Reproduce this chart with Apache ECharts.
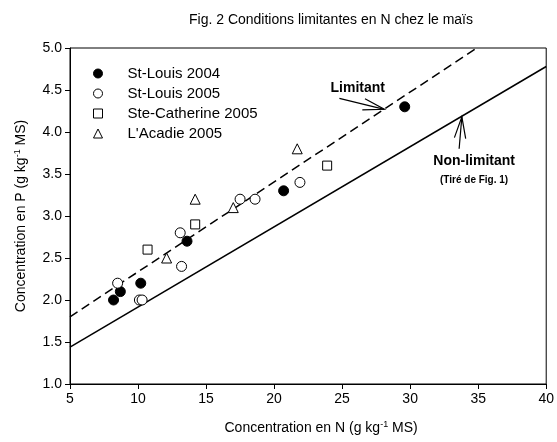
<!DOCTYPE html>
<html>
<head>
<meta charset="utf-8">
<script src="https://cdn.jsdelivr.net/npm/echarts@6/dist/echarts.min.js"></script>
<style>
  html, body { margin: 0; padding: 0; background: #fff; }
  #chart { width: 557px; height: 442px; }
</style>
</head>
<body>
<div id="chart"></div>
<script>
// points: [N, P]
const stLouis2004 = [[8.2, 2.0], [8.7, 2.1], [10.2, 2.2], [13.6, 2.7], [20.7, 3.3], [29.6, 4.3]];
const stLouis2005 = [[8.5, 2.2], [10.1, 2.0], [10.3, 2.0], [13.2, 2.4], [13.1, 2.8], [17.5, 3.2], [18.6, 3.2], [21.9, 3.4]];
const steCatherine2005 = [[10.7, 2.6], [14.2, 2.9], [23.9, 3.6]];
const lAcadie2005 = [[12.1, 2.5], [14.2, 3.2], [17.0, 3.1], [21.7, 3.8]];

// reference lines (end points)
const limitantLine = [[5, 1.8], [34.9, 5.0]];
const nonLimitantLine = [[5, 1.44], [40, 4.78]];

const xTicks = { min: 5, max: 40, interval: 5 };
const yTicks = { min: 1, max: 5, interval: 0.5 };

const FONT = 'Liberation Sans, Arial, sans-serif';

const myChart = echarts.init(document.getElementById('chart'));

const pointSeries = (name, data, symbol, filled, size) => ({
  name,
  type: 'scatter',
  data,
  symbol,
  symbolSize: size,
  itemStyle: {
    color: filled ? '#000' : '#fff',
    borderColor: '#000',
    borderWidth: 1,
    opacity: 1
  },
  z: 5
});

myChart.setOption({
  animation: false,
  title: {
    text: 'Fig. 2 Conditions limitantes en N chez le maïs',
    left: 326,
    textAlign: 'center',
    top: 8,
    textStyle: { fontFamily: FONT, fontSize: 14, fontWeight: 'normal', color: '#000' }
  },
  legend: {
    orient: 'vertical',
    left: 88,
    top: 61,
    itemWidth: 9,
    itemHeight: 9,
    itemGap: 5,
    itemStyle: { borderWidth: 1 },
    textStyle: { fontFamily: FONT, fontSize: 15, color: '#000', padding: [0, 0, 0, 20] },
    data: ['St-Louis 2004', 'St-Louis 2005', 'Ste-Catherine 2005', "L'Acadie 2005"]
  },
  grid: {
    left: 70,
    right: 8,
    top: 48,
    bottom: 58,
    show: true,
    borderColor: '#000',
    borderWidth: 1
  },
  xAxis: {
    type: 'value',
    min: xTicks.min,
    max: xTicks.max,
    interval: xTicks.interval,
    splitLine: { show: false },
    axisLine: { lineStyle: { color: '#000' } },
    axisTick: { length: 5, lineStyle: { color: '#000' } },
    axisLabel: { fontFamily: FONT, fontSize: 14, color: '#000', margin: 8 },
    name: '{n|Concentration en N (g kg}{s|-1}{n| MS)}',
    nameLocation: 'middle',
    nameGap: 36,
    nameTextStyle: {
      padding: [0, 0, 0, 26],
      rich: {
        n: { fontFamily: FONT, fontSize: 14, color: '#000' },
        s: { fontFamily: FONT, fontSize: 9, color: '#000', verticalAlign: 'top', padding: [0, 0, 8, 0] }
      }
    }
  },
  yAxis: {
    type: 'value',
    min: yTicks.min,
    max: yTicks.max,
    interval: yTicks.interval,
    splitLine: { show: false },
    axisLine: { lineStyle: { color: '#000' } },
    axisTick: { length: 5, lineStyle: { color: '#000' } },
    axisLabel: {
      fontFamily: FONT, fontSize: 14, color: '#000', margin: 8,
      formatter: v => v.toFixed(1)
    },
    name: '{n|Concentration en P (g kg}{s|-1}{n| MS)}',
    nameLocation: 'middle',
    nameGap: 40,
    nameRotate: 90,
    nameTextStyle: {
      rich: {
        n: { fontFamily: FONT, fontSize: 14, color: '#000' },
        s: { fontFamily: FONT, fontSize: 9, color: '#000', verticalAlign: 'top', padding: [0, 0, 8, 0] }
      }
    }
  },
  series: [
    {
      name: 'Limitant',
      type: 'line',
      data: limitantLine,
      symbol: 'none',
      lineStyle: { color: '#000', width: 1.5, type: [9, 5] },
      z: 2
    },
    {
      name: 'Non-limitant',
      type: 'line',
      data: nonLimitantLine,
      symbol: 'none',
      lineStyle: { color: '#000', width: 1.5 },
      z: 2
    },
    pointSeries('St-Louis 2004', stLouis2004, 'circle', true, 10),
    pointSeries('St-Louis 2005', stLouis2005, 'circle', false, 10),
    pointSeries('Ste-Catherine 2005', steCatherine2005, 'rect', false, 9),
    pointSeries("L'Acadie 2005", lAcadie2005, 'triangle', false, 10)
  ]
});

// annotations with arrows, anchored in data coordinates
const px = p => myChart.convertToPixel({ gridIndex: 0 }, p);

function arrow(tail, tip) {
  const a = px(tail), b = px(tip);
  const ang = Math.atan2(a[1] - b[1], a[0] - b[0]);
  const len = 22, spread = 0.26;
  const barb = s => [b[0] + len * Math.cos(ang + s), b[1] + len * Math.sin(ang + s)];
  return [
    { type: 'polyline', shape: { points: [a, b] }, style: { stroke: '#000', lineWidth: 1.2, fill: null } },
    { type: 'polyline', shape: { points: [barb(spread), b, barb(-spread)] }, style: { stroke: '#000', lineWidth: 1.2, fill: null } }
  ];
}

function label(text, at, size) {
  const p = px(at);
  return {
    type: 'text', x: p[0], y: p[1],
    style: { text, fontFamily: FONT, fontSize: size, fontWeight: 'bold', fill: '#000', align: 'center', verticalAlign: 'middle' }
  };
}

myChart.setOption({
  graphic: [
    label('Limitant', [26.15, 4.52], 14),
    ...arrow([24.8, 4.4], [28.1, 4.27]),
    label('Non-limitant', [34.7, 3.655], 14),
    label('(Tiré de Fig. 1)', [34.7, 3.43], 10),
    ...arrow([33.6, 3.8], [33.8, 4.18])
  ]
});

window.addEventListener('resize', () => {
  myChart.resize();
});
</script>
</body>
</html>
